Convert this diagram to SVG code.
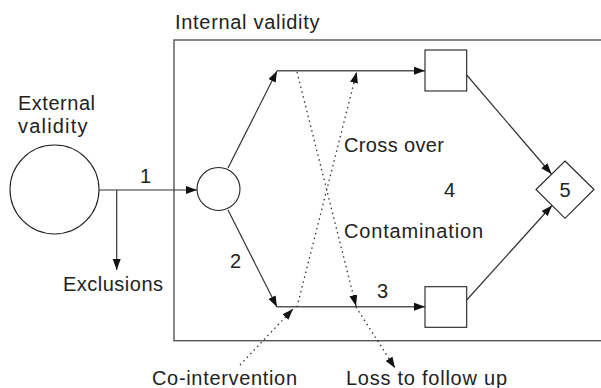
<svg xmlns="http://www.w3.org/2000/svg" width="601" height="388" viewBox="0 0 601 388">
<defs>
<style>
text{font-family:"Liberation Sans",Arial,sans-serif;font-size:20px;fill:#222}
.ln{stroke:#333;stroke-width:1.2;fill:none}
.gl{stroke:#555;stroke-width:1.4;fill:none}
.dt{stroke:#333;stroke-width:1.3;fill:none;stroke-dasharray:1.5 3.5}
.sh{stroke:#222;stroke-width:1.1;fill:#fff}
</style>
<marker id="ah" markerUnits="userSpaceOnUse" markerWidth="12" markerHeight="9" refX="11" refY="4" orient="auto">
<path d="M0,0 L11,4 L0,8 z" fill="#111"/>
</marker>
</defs>
<g id="frame">
<rect class="gl" x="174" y="40" width="440" height="300.7"/>
<text x="175" y="29" textLength="144.5" lengthAdjust="spacing">Internal validity</text>
</g>
<g id="connectors">
<line class="ln" x1="99" y1="190" x2="197" y2="190" marker-end="url(#ah)"/>
<line class="ln" x1="116.7" y1="190" x2="116.7" y2="270" marker-end="url(#ah)"/>
<line class="ln" x1="228" y1="168" x2="277" y2="71" marker-end="url(#ah)"/>
<line class="ln" x1="228" y1="210" x2="277" y2="307" marker-end="url(#ah)"/>
<line class="gl" x1="277" y1="70.7" x2="425" y2="70.7" marker-end="url(#ah)"/>
<line class="gl" x1="277" y1="306.7" x2="425" y2="306.7" marker-end="url(#ah)"/>
<line class="ln" x1="466.7" y1="75" x2="551.5" y2="174" marker-end="url(#ah)"/>
<line class="ln" x1="466.7" y1="300" x2="552" y2="205.5" marker-end="url(#ah)"/>
<line class="dt" x1="297" y1="72" x2="356" y2="306" marker-end="url(#ah)"/>
<line class="dt" x1="356" y1="307" x2="395" y2="368" marker-end="url(#ah)"/>
<line class="dt" x1="240" y1="365" x2="293" y2="309" marker-end="url(#ah)"/>
<line class="dt" x1="297" y1="307" x2="356.7" y2="72" marker-end="url(#ah)"/>
</g>
<g id="external">
<circle class="sh" cx="54.5" cy="189.5" r="44.5"/>
<text x="18" y="110" textLength="77" lengthAdjust="spacing">External</text>
<text x="18" y="132.5" textLength="69.5" lengthAdjust="spacing">validity</text>
</g>
<g id="randomise">
<circle class="sh" cx="218.5" cy="189" r="21.5"/>
</g>
<g id="group-top">
<rect class="sh" x="425" y="50" width="41.7" height="41"/>
</g>
<g id="group-bottom">
<rect class="sh" x="425" y="286.7" width="41.7" height="40.6"/>
</g>
<g id="outcome">
<polygon class="sh" points="565,161 594,189.5 565,218.3 536,189.5"/>
<text x="565" y="197" text-anchor="middle">5</text>
</g>
<g id="labels">
<text x="140" y="183">1</text>
<text x="63" y="291" textLength="100" lengthAdjust="spacing">Exclusions</text>
<text x="230" y="268">2</text>
<text x="377" y="298">3</text>
<text x="444" y="197">4</text>
<text x="344" y="152" textLength="100" lengthAdjust="spacing">Cross over</text>
<text x="344" y="238" textLength="139" lengthAdjust="spacing">Contamination</text>
<text x="152" y="385" textLength="145" lengthAdjust="spacing">Co-intervention</text>
<text x="346" y="385" textLength="161" lengthAdjust="spacing">Loss to follow up</text>
</g>
</svg>
